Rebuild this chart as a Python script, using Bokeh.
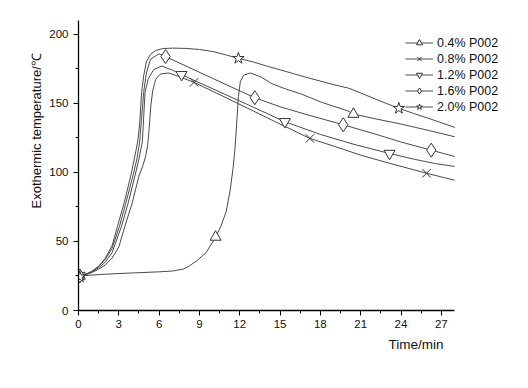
from bokeh.plotting import figure
from bokeh.models import Range1d, FixedTicker, Legend, LegendItem, Title
from bokeh.embed import file_html
from bokeh.resources import INLINE

# ---- data ----
labels = ["0.4% P002", "0.8% P002", "1.2% P002", "1.6% P002", "2.0% P002"]

x04 = [0, 2, 4, 6, 7, 7.8, 8.2, 8.8, 9.5, 10.2, 10.6, 11.0, 11.3, 11.5, 11.65, 11.8, 11.9, 12.05, 12.3, 12.8,
       13.6, 14.4, 15.4, 16.6, 18.1, 20.0, 20.5, 22, 24, 26, 28]
y04 = [25, 26.3, 27.2, 28, 28.6, 30, 32, 36, 42, 53, 61, 72, 88, 103, 118, 140, 155, 166, 170.5, 172,
       169, 164.2, 160.5, 156.7, 150.7, 144.7, 142.2, 139, 135, 130.5, 125.8]

x08 = [0, 0.5, 1, 1.5, 2, 2.5, 3, 3.45, 4, 4.5, 4.8, 5.0, 5.15, 5.27, 5.38, 5.52, 5.75, 6.1, 6.73, 7.5, 8.6,
       11, 13, 15, 17.22, 19, 21, 23, 25.9, 28]
y08 = [25, 26, 27.5, 30, 33, 38, 46, 61, 78, 97.5, 105, 112, 120, 133, 148, 159, 167.6, 171.3, 172, 169.3, 165.2,
       154, 144.5, 135, 124.6, 119, 112.5, 107, 99.4, 94.3]

x12 = [0, 0.5, 1, 1.5, 2, 2.5, 3.2, 3.7, 4.2, 4.5, 4.75, 4.85, 4.95, 5.2, 5.6, 6.2, 7.0, 7.67,
       10, 12.5, 15.36, 18, 20.5, 23.15, 25, 26.5, 28]
y12 = [25, 26, 28, 31, 35, 42, 61, 78, 97.5, 110, 122, 140, 158, 168, 174.5, 177, 174, 170.8,
       160.5, 149.5, 136.7, 127.5, 120.3, 113.7, 109.5, 106.5, 104.3]

x16 = [0, 0.5, 1, 1.5, 2, 2.5, 3.05, 3.5, 4.05, 4.35, 4.55, 4.7, 4.85, 5.05, 5.36, 5.98, 6.48,
       8, 10, 12, 13.12, 15, 17, 19.7, 22, 24, 26.25, 28]
y16 = [25, 26, 28.5, 32, 37, 45, 61, 77, 97.5, 110, 122, 140, 158, 172, 182, 185.8, 183.9,
       177, 168, 159, 154.1, 147.5, 141.8, 134.5, 128, 122, 116.1, 111.5]

x20 = [0, 0.5, 1, 1.5, 2, 2.5, 2.9, 3.4, 3.9, 4.2, 4.4, 4.55, 4.7, 4.85, 5.05, 5.35, 5.75, 6.3, 7, 8, 9, 10,
       11, 11.9, 13, 14, 15, 16, 17, 18.2, 19, 20.1, 21, 22, 23, 23.84, 25, 26, 27, 28]
y20 = [24, 25.5, 28, 32, 38, 47, 61, 78, 98, 112, 122, 135, 158, 170, 180, 185.5, 188.3, 189.7, 190, 189.8, 189, 187.5,
       185, 182.6, 180, 177, 174.3, 171.5, 168.7, 165.6, 163.5, 161, 157.5, 153.5, 149.6, 146.4, 142.5, 139.3, 136, 132.6]

# marker positions
mx04, my04 = [0.1, 10.2, 20.46], [25, 53.2, 142.2]
mx08, my08 = [0.1, 8.6, 17.22, 25.9], [25, 165.2, 124.6, 99.4]
mx12, my12 = [0.1, 7.67, 15.36, 23.15], [25, 170.8, 136.7, 113.7]
mx16, my16 = [0.1, 6.48, 13.12, 19.7, 26.25], [25, 183.9, 154.1, 134.5, 116.1]
mx20, my20 = [0.1, 11.9, 23.84], [24.3, 182.6, 146.4]

x_ticks = [0, 3, 6, 9, 12, 15, 18, 21, 24, 27]
x_minor = [1.5, 4.5, 7.5, 10.5, 13.5, 16.5, 19.5, 22.5, 25.5]
y_ticks = [0, 50, 100, 150, 200]
y_minor = [25, 75, 125, 175]

FONT = "Liberation Sans"
LINE = "#4a4a4a"
MARK = "#333333"

p = figure(width=512, height=370, x_range=Range1d(0, 32.0), y_range=Range1d(0, 210),
           output_backend="svg", toolbar_location=None,
           min_border_left=78, min_border_right=4, min_border_top=20, min_border_bottom=60)
p.outline_line_color = None
p.xgrid.visible = False
p.ygrid.visible = False
p.background_fill_color = "white"
p.border_fill_color = "white"

for ax in (p.xaxis[0], p.yaxis[0]):
    ax.axis_line_color = "black"
    ax.axis_line_width = 1.3
    ax.major_tick_line_color = "black"
    ax.minor_tick_line_color = "black"
    ax.major_tick_in = 0
    ax.major_tick_out = 5
    ax.minor_tick_in = 0
    ax.minor_tick_out = 3
    ax.major_label_text_font = FONT
    ax.major_label_text_font_size = "11.5px"
    ax.major_label_text_color = "#111111"
p.xaxis[0].ticker = FixedTicker(ticks=x_ticks, minor_ticks=x_minor)
p.yaxis[0].ticker = FixedTicker(ticks=y_ticks, minor_ticks=y_minor)
p.xaxis[0].bounds = (0, 28)
p.xaxis[0].major_label_standoff = 4
p.yaxis[0].major_label_standoff = 5

series = [
    (x04, y04, mx04, my04, "triangle", 11),
    (x08, y08, mx08, my08, "x", 12),
    (x12, y12, mx12, my12, "inverted_triangle", 11),
    (x16, y16, mx16, my16, "diamond", 14),
    (x20, y20, mx20, my20, "star", 12),
]

items = []
for (xs, ys, mxs, mys, mk, sz), lab in zip(series, labels):
    r1 = p.line(xs, ys, line_color=LINE, line_width=1)
    r2 = p.scatter(mxs, mys, marker=mk, size=sz, line_color=MARK, fill_color="white", line_width=1)
    items.append(LegendItem(label=lab, renderers=[r1, r2]))

legend = Legend(items=items, location=(327, 196), padding=0, margin=0,
                border_line_color=None, background_fill_alpha=0,
                glyph_width=28, glyph_height=15, label_height=15, spacing=1,
                label_standoff=4, label_text_font=FONT, label_text_font_size="12.5px",
                label_text_color="#111111")
p.add_layout(legend)

p.add_layout(Title(text="Time/min", align="left", offset=310, standoff=9,
                   text_font=FONT, text_font_size="13.5px", text_font_style="normal",
                   text_color="#111111"), "below")
p.add_layout(Title(text="Exothermic temperature/℃", align="left", offset=102, standoff=6,
                   text_font=FONT, text_font_size="13px", text_font_style="normal",
                   text_color="#111111"), "left")

open("out.html", "w").write(file_html(p, INLINE))
